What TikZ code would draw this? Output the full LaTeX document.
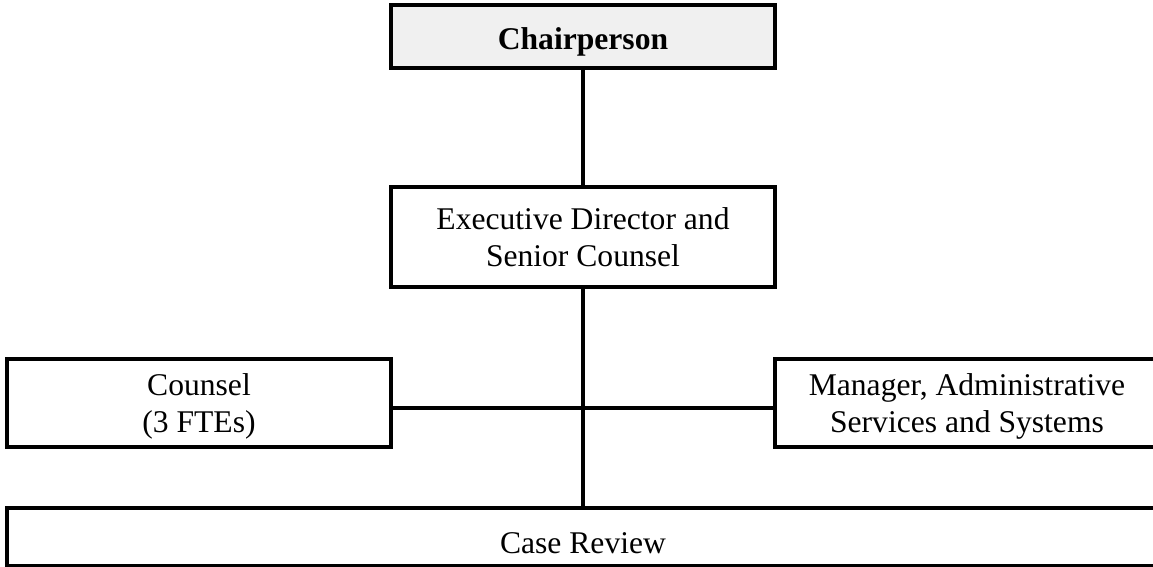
\documentclass[tikz,border=0pt]{standalone}
\usepackage{fontspec}
\setmainfont{Liberation Serif}
\usepackage{tikz}
\usetikzlibrary{calc}
\definecolor{chairgray}{RGB}{240,240,240}

\begin{document}
\begin{tikzpicture}
      [x=0.5pt,y=-0.5pt,line width=1.7pt,
      every node/.style={shape=rectangle,draw,align=center,inner sep=0pt,text depth=0pt,
        font=\fontsize{15.8}{18.5}\selectfont},
      post/.style={minimum width=192pt}]
   \useasboundingbox (0,0) rectangle (1153,567);
   \node[post,minimum height=31.5pt,fill=chairgray,text height=13.5pt] (chair) at (583,36.5) {\textbf{Chairperson}};
   \node[post,minimum height=50pt] (exec) at (583,237) {Executive Director and\\Senior Counsel};
   \node[post,minimum height=44pt] (counsel) at (199,403) {Counsel\\(3 FTEs)};
   \node[minimum width=192pt,minimum height=44pt] (manager) at (967,403) {Manager, Administrative\\Services and Systems};
   \node[minimum width=576pt,minimum height=29pt,text height=16pt] (casereview) at (583,537) {Case Review};
   \coordinate (hub) at (583,408);
   \draw (chair.south) -- (exec.north);
   \draw (exec.south) -- (exec.south |- casereview.north);
   \draw (counsel.east |- hub) -- (manager.west |- hub);
\end{tikzpicture}
\end{document}
